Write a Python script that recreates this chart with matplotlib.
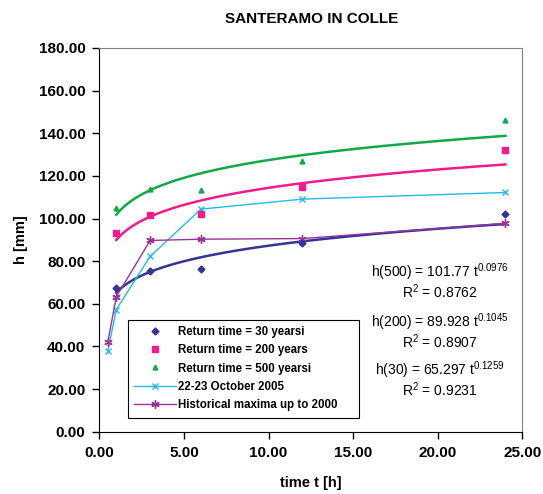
import numpy as np
import matplotlib
matplotlib.use("Agg")
import matplotlib.pyplot as plt
from matplotlib.ticker import FormatStrFormatter

plt.rcParams['font.family'] = ['Liberation Sans', 'DejaVu Sans']
plt.rcParams['mathtext.fontset'] = 'custom'
plt.rcParams['mathtext.rm'] = 'Liberation Sans'

# durations [h]
t_rt = [1, 3, 6, 12, 24]
h_30 = [67.5, 75.4, 76.5, 88.4, 102.1]
h_200 = [93.1, 101.6, 102.0, 114.7, 132.3]
h_500 = [104.9, 114.0, 113.6, 126.9, 146.2]

t_ev = [0.5, 1, 3, 6, 12, 24]
h_oct2005 = [38.0, 57.3, 82.2, 104.4, 109.1, 112.2]
h_hist = [42.1, 63.3, 89.7, 90.3, 90.6, 97.7]

# power trendlines h = a t^n (as printed on the chart)
fit_a = {'500': 101.77, '200': 89.928, '30': 65.297}
fit_n = {'500': 0.0976, '200': 0.1045, '30': 0.1259}
fit_r2 = {'500': 0.8762, '200': 0.8907, '30': 0.9231}

c_30 = '#333399'
c_200 = '#ee1c8c'
c_500 = '#12a84a'
c_oct = '#22bbee'
c_hist = '#993399'

fig = plt.figure(figsize=(5.43, 4.94), dpi=100)
ax = fig.add_axes([0.183, 0.126, 0.779, 0.777])

tt = np.linspace(1, 24, 200)
ax.plot(tt, fit_a['500'] * tt ** fit_n['500'], color=c_500, lw=1.8, zorder=2)
ax.plot(tt, fit_a['200'] * tt ** fit_n['200'], color=c_200, lw=1.8, zorder=2)
ax.plot(tt, fit_a['30'] * tt ** fit_n['30'], color=c_30, lw=1.8, zorder=2)

ax.plot(t_rt, h_30, 'D', color=c_30, ms=3.5, ls='none', label='Return time = 30 yearsi', zorder=4)
ax.plot(t_rt, h_200, 's', color=c_200, ms=4, ls='none', label='Return time = 200 years', zorder=4)
ax.plot(t_rt, h_500, '^', color=c_500, ms=3.5, ls='none', label='Return time = 500 yearsi', zorder=4)
ax.plot(t_ev, h_oct2005, color=c_oct, marker='x', ms=5, mew=1, lw=1, label='22-23 October 2005', zorder=3)
ax.plot(t_ev, h_hist, color=c_hist, marker=(6, 2, 0), ms=6, mew=1, lw=1, label='Historical maxima up to 2000', zorder=3)

ax.set_xlim(0, 25)
ax.set_ylim(0, 180)
ax.set_xticks(np.arange(0, 25.1, 5))
ax.set_yticks(np.arange(0, 180.1, 20))
ax.xaxis.set_major_formatter(FormatStrFormatter('%.2f'))
ax.yaxis.set_major_formatter(FormatStrFormatter('%.2f'))
ax.tick_params(direction='out', length=5, width=1, labelsize=11, pad=5)
for lab in ax.get_xticklabels() + ax.get_yticklabels():
    lab.set_fontweight('bold')
ax.spines['top'].set_color('#808080')
ax.spines['right'].set_color('#808080')

ax.set_xlabel('time t [h]', fontsize=10.5, fontweight='bold', labelpad=12)
ax.set_ylabel('h [mm]', fontsize=10.5, fontweight='bold', labelpad=8)
fig.text(0.573, 0.962, 'SANTERAMO IN COLLE', ha='center', va='center',
         fontsize=11, fontweight='bold')

# equations
eq_x = 20.1
for key, y0 in [('500', 75), ('200', 51.5), ('30', 29)]:
    ax.text(eq_x, y0, r'h(%s) = %s t$^{%s}$' % (key, fit_a[key], fit_n[key]),
            ha='center', va='center', fontsize=10)
    ax.text(eq_x, y0 - 9.5, r'R$^{2}$ = %s' % fit_r2[key], ha='center', va='center', fontsize=10)

leg = ax.legend(loc='lower left', bbox_to_anchor=(0.068, 0.037, 0.546, 0.25), mode='expand',
                prop={'size': 8.3, 'weight': 'bold'},
                frameon=True, fancybox=False, edgecolor='black', framealpha=1,
                borderpad=0.55, labelspacing=0.55, handlelength=3.6, handletextpad=0.2,
                borderaxespad=0)
leg.get_frame().set_linewidth(0.8)

fig.savefig('out.png', dpi=100)
